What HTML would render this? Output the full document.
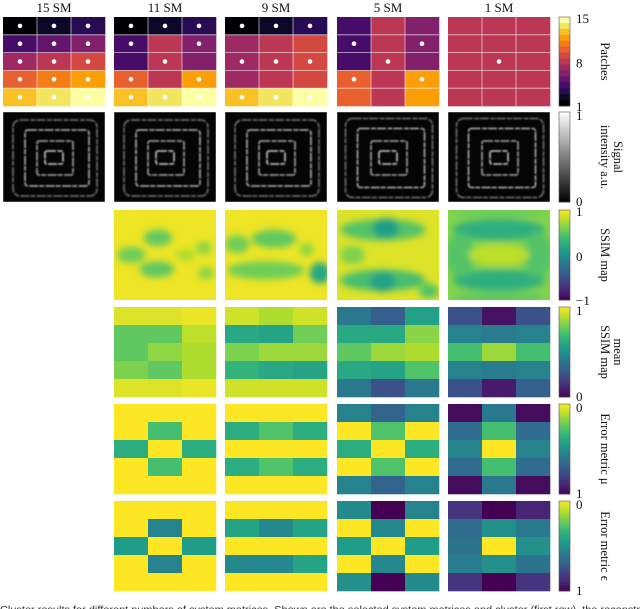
<!DOCTYPE html>
<html><head><meta charset="utf-8"><style>
html,body{margin:0;padding:0;background:#fff;width:640px;height:609px;overflow:hidden}
svg{display:block}
.t{font-family:"Liberation Serif",serif;fill:#111}
</style></head><body>
<svg id="fig" width="640" height="609" viewBox="0 0 640 609">
<defs>
<filter id="b1" x="-10%" y="-10%" width="120%" height="120%"><feGaussianBlur stdDeviation="0.9"/></filter>
<filter id="b5" x="-50%" y="-50%" width="200%" height="200%"><feGaussianBlur stdDeviation="3.5"/></filter>
<clipPath id="cp"><rect x="0" y="0" width="102" height="90"/></clipPath>
</defs>
</svg>
<script>
// ---- data ----
const columnTitles = ["15 SM","11 SM","9 SM","5 SM","1 SM"];
const patchValues = [
 [[1,2,3],[4,5,6],[7,8,9],[10,11,12],[13,14,15]],
 [[1,2,3],[4,8,6],[4,8,6],[10,8,12],[13,14,15]],
 [[1,2,3],[7,8,9],[7,8,9],[7,8,9],[13,14,15]],
 [[4,8,6],[4,8,6],[4,8,6],[10,8,12],[10,8,12]],
 [[8,8,8],[8,8,8],[8,8,8],[8,8,8],[8,8,8]]
];
const selectedDots = [
 [[1,1,1],[1,1,1],[1,1,1],[1,1,1],[1,1,1]],
 [[1,1,1],[1,0,1],[0,1,0],[1,0,1],[1,1,1]],
 [[1,1,1],[0,0,0],[1,1,1],[0,0,0],[1,1,1]],
 [[0,0,0],[1,0,1],[0,1,0],[1,0,1],[0,0,0]],
 [[0,0,0],[0,0,0],[0,1,0],[0,0,0],[0,0,0]]
];
const meanSSIM = [null,
 [[.95,.95,.97],[.75,.75,.9],[.75,.83,.88],[.8,.75,.88],[.95,.95,.97]],
 [[.93,.88,.93],[.6,.58,.78],[.8,.85,.85],[.65,.6,.58],[.93,.93,.93]],
 [[.4,.3,.57],[.6,.6,.82],[.75,.85,.88],[.6,.58,.72],[.4,.25,.4]],
 [[.25,.05,.25],[.45,.42,.45],[.7,.85,.7],[.45,.42,.45],[.25,.07,.3]]
];
const errorMu = [null,
 [[0,0,0],[0,.3,0],[.38,0,.38],[0,.3,0],[0,0,0]],
 [[0,0,0],[.38,.28,.38],[0,0,0],[.38,.28,.38],[0,0,0]],
 [[.55,.68,.55],[0,.28,0],[.38,0,.38],[0,.28,0],[.55,.68,.55]],
 [[.97,.6,.97],[.65,.3,.65],[.55,0,.55],[.65,.3,.65],[.97,.6,.97]]
];
const errorEps = [null,
 [[0,0,0],[0,.55,0],[.45,0,.45],[0,.55,0],[0,0,0]],
 [[0,0,0],[.42,.53,.42],[0,0,0],[.53,.53,.42],[0,0,0]],
 [[.52,1,.55],[0,.53,0],[.45,0,.45],[0,.53,0],[.5,1,.52]],
 [[.85,1,.9],[.65,.5,.6],[.62,0,.5],[.58,.5,.62],[.85,1,.85]]
];
// SSIM map blobs: [cx, cy, rx, ry, value] (in panel fractions, value -1..1)
const ssimBlobs = [null,
 [[.43,.31,.14,.09,.5],[.17,.5,.14,.09,.55],[.42,.66,.17,.09,.5],[.88,.42,.08,.07,.65],[.9,.7,.08,.07,.65],[.7,.5,.1,.06,.75]],
 [[.12,.38,.12,.1,.55],[.48,.32,.22,.1,.5],[.4,.67,.38,.1,.55],[.93,.7,.1,.12,.2],[.8,.44,.07,.07,.65]],
 [[.45,.22,.42,.12,.45],[.45,.78,.42,.12,.4],[.48,.2,.13,.11,.1],[.45,.8,.13,.11,.15],[.15,.5,.12,.1,.6],[.9,.9,.1,.08,.45]],
 [[.5,.22,.45,.12,.25],[.5,.78,.45,.12,.25],[.12,.5,.14,.25,.45],[.88,.5,.14,.25,.45],[.5,.5,.3,.12,.8],[.5,.97,.45,.06,.5],[.5,.03,.45,.06,.55]]
];
const ssimBase = [null,.95,.95,.9,.62];
const rowLabels = [["Patches"],["Signal","intensity a.u."],["SSIM map"],["mean","SSIM map"],["Error metric μ"],["Error metric ϵ"]];
const barTicks = [["15","8","1"],["1","0"],["1","0","−1"],["1","0"],["0","1"],["0","1"]];

// ---- helpers ----
const NS="http://www.w3.org/2000/svg";
const svg=document.getElementById('fig');
function el(tag,attrs,parent){const e=document.createElementNS(NS,tag);for(const k in attrs)e.setAttribute(k,attrs[k]);(parent||svg).appendChild(e);return e;}
function lerpStops(stops,t){t=Math.max(0,Math.min(1,t));const n=stops.length-1;const i=Math.min(n-1,Math.floor(t*n));const f=t*n-i;
 const a=stops[i],b=stops[i+1];const h=x=>[parseInt(x.slice(1,3),16),parseInt(x.slice(3,5),16),parseInt(x.slice(5,7),16)];
 const A=h(a),B=h(b);return 'rgb('+A.map((v,j)=>Math.round(v+(B[j]-v)*f)).join(',')+')';}
const VIR=["#440154","#482878","#3e4989","#31688e","#26828e","#1f9e89","#35b779","#6ece58","#b5de2b","#fde725"];
const INF=["#000004","#0d0829","#280b53","#470b6a","#65156e","#82206c","#9f2a63","#bc3754","#d44842","#e8602d","#f57d15","#fc9f07","#fac127","#f3e55d","#fcffa4"];
const viridis=t=>lerpStops(VIR,t);
const infernoLevel=k=>INF[k-1];

const colX=[3,114,225,337,448], PW=102;
const rowY=[17,112,210,307,404,501], PH=[89,90,90,90,90,90];

// titles
columnTitles.forEach((s,i)=>{const t=el('text',{x:colX[i]+PW/2,y:12,'text-anchor':'middle','font-size':13,class:'t'});t.textContent=s;
 
 });

function grid(ci,ri,vals,colorFn,name){
 const g=el('g',{transform:`translate(${colX[ci]},${rowY[ri]})`});
 
 
 const cw=PW/3,ch=PH[ri]/5;
 vals.forEach((row,r)=>row.forEach((v,c)=>{
  const rc=el('rect',{x:c*cw,y:r*ch,width:cw+0.3,height:ch+0.3,fill:colorFn(v)},g);
  
  
 }));
 return g;}

// row 1 patches
patchValues.forEach((vals,ci)=>{
 const g=grid(ci,0,vals,infernoLevel,'patch-grid-'+ci);
 const cw=PW/3,ch=PH[0]/5;
 for(let c=1;c<3;c++)el('line',{x1:c*cw,y1:0,x2:c*cw,y2:PH[0],stroke:'#fff','stroke-opacity':.7,'stroke-width':.8},g);
 for(let r=1;r<5;r++)el('line',{x1:0,y1:r*ch,x2:PW,y2:r*ch,stroke:'#fff','stroke-opacity':.7,'stroke-width':.8},g);
 selectedDots[ci].forEach((row,r)=>row.forEach((d,c)=>{if(d){const dot=el('circle',{cx:(c+.5)*cw,cy:(r+.5)*ch,r:2.3,fill:'#fff'},g);
  
  }}));
});

// row 2 signal images
const rings=[[10,8,84,76,7,.45],[22,18,64,56,3,.7],[34,29,36,34,2,.65],[42,39,18,13,2,.8]];
for(let ci=0;ci<5;ci++){
 const g=el('g',{transform:`translate(${colX[ci]},${rowY[1]})`,'clip-path':'url(#cp)'});
 
 
 el('rect',{x:0,y:0,width:PW,height:90,fill:'#050505'},g);
 const gg=el('g',{filter:'url(#b1)'},g);
 rings.forEach((r,k)=>{const j=(ci>=3&&k<2)?1.5:0;
  el('rect',{x:r[0]-j,y:r[1]-j,width:r[2]+2*j,height:r[3]+2*j,rx:r[4],fill:'none',stroke:`rgba(220,220,220,${r[5]})`,'stroke-width':1.8,'stroke-dasharray':'9 1.5 5 1'},gg);});
 el('rect',{x:0,y:0,width:PW,height:90,fill:'none',stroke:'#bbb','stroke-width':.6},g);
}

// row 3 ssim maps
for(let ci=1;ci<5;ci++){
 const g=el('g',{transform:`translate(${colX[ci]},${rowY[2]})`,'clip-path':'url(#cp)'});
 
 
 el('rect',{x:0,y:0,width:PW,height:90,fill:viridis((ssimBase[ci]+1)/2)},g);
 const gg=el('g',{filter:'url(#b5)'},g);
 ssimBlobs[ci].forEach(b=>{const e=el('ellipse',{cx:b[0]*PW,cy:b[1]*90,rx:b[2]*PW,ry:b[3]*90,fill:viridis((b[4]+1)/2)},gg);
  
  });
}

// rows 4-6
for(let ci=1;ci<5;ci++){
 grid(ci,3,meanSSIM[ci],v=>viridis(v),'mean-ssim-grid-'+ci);
 grid(ci,4,errorMu[ci],v=>viridis(1-v),'error-mu-grid-'+ci);
 grid(ci,5,errorEps[ci],v=>viridis(1-v),'error-eps-grid-'+ci);
}

// colorbars
const CBX=559,CBW=11;
for(let ri=0;ri<6;ri++){
 const y0=rowY[ri],h=PH[ri];
 const g=el('g',{});
 
 
 const N=ri===0?15:60;
 for(let k=0;k<N;k++){const t=1-(k+.5)/N;let col;
  if(ri===0)col=INF[N-1-k];
  else if(ri===1){const v=Math.round(t*255);col=`rgb(${v},${v},${v})`;}
  else col=viridis(t);
  el('rect',{x:CBX,y:y0+k*h/N,width:CBW,height:h/N+.4,fill:col},g);}
 el('rect',{x:CBX,y:y0,width:CBW,height:h,fill:'none',stroke:'#555','stroke-width':.6},g);
 const tk=barTicks[ri];
 tk.forEach((s,i)=>{const yy=y0+(tk.length===3?[4,h/2+4,h+3][i]:[6,h+2][i]);
  const t=el('text',{x:576,y:yy+2,'font-size':13,class:'t'},g);t.textContent=s;
  
  });
 const lab=rowLabels[ri];
 lab.forEach((s,i)=>{const lx=lab.length===1?601:614-i*13;
  const t=el('text',{x:0,y:0,'font-size':12.5,class:'t','text-anchor':'middle',transform:`translate(${lx},${y0+h/2}) rotate(90)`},g);
  t.textContent=s;
  
  });
}
// caption
const cap=el('text',{x:0,y:613,'font-size':10.2,'font-family':'Liberation Sans, sans-serif',fill:'#333',textLength:640,lengthAdjust:'spacingAndGlyphs'});
cap.textContent="Cluster results for different numbers of system matrices. Shown are the selected system matrices and cluster (first row), the reconstr";


</script>
</body></html>
